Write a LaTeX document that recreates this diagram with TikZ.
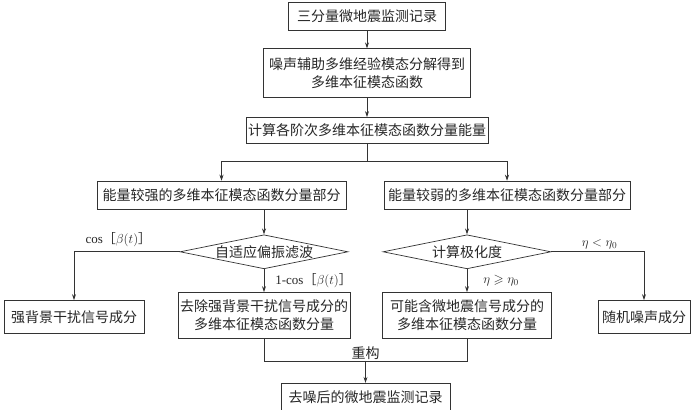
\documentclass[tikz,border=0pt]{standalone}
\usepackage{fix-cm}
\usepackage{fontspec}
\usepackage{amssymb}
\setmainfont{Liberation Serif}
\newfontfamily\cjk{Noto Sans CJK SC}
\usetikzlibrary{positioning}
\usetikzlibrary{shapes.geometric}
\usetikzlibrary{arrows.meta}
\usetikzlibrary{calc}

\begin{document}
\begin{tikzpicture}[x=1pt, y=1pt, line width=0.7pt, draw=black!80,
        box/.style={draw, align=center, inner sep=2pt, minimum height=28pt, text=black!85, font=\cjk\fontsize{14}{18}\selectfont},
        decision/.style={draw, diamond, aspect=5, inner sep=0pt, minimum width=168pt, minimum height=34pt, text=black!85, font=\cjk\fontsize{14}{18}\selectfont},
        arr/.style={-{Stealth[length=6pt,width=4pt]}},
        lbl/.style={inner sep=1pt, text=black!85, font=\fontsize{13}{15}\selectfont}]
        \useasboundingbox (0,0) rectangle (700,-409);

        % main column
        \node[box, minimum width=157pt] (rec) at (367,-16) {三分量微地震监测记录};
        \node[box, minimum width=207pt, minimum height=49pt, below=18pt of rec] (emd) {噪声辅助多维经验模态分解得到\\多维本征模态函数};
        \node[box, minimum width=237pt, minimum height=26pt, below=19pt of emd] (energy) {计算各阶次多维本征模态函数分量能量};
        \coordinate[below=18pt of energy] (split);

        % strong and weak parts
        \node[box, minimum width=249pt, below=37pt of energy, xshift=-145.5pt] (strong) {能量较强的多维本征模态函数分量部分};
        \node[box, minimum width=246pt, below=37pt of energy, xshift=140pt] (weak) {能量较弱的多维本征模态函数分量部分};
        \node[decision, below=25pt of strong, xshift=42.5pt] (adapt) {自适应偏振滤波};
        \node[decision, below=25pt of weak, xshift=-40pt] (polar) {计算极化度};

        % outputs
        \node[box, minimum width=140pt, minimum height=33pt, below=31pt of adapt, xshift=-190pt] (bg) {强背景干扰信号成分};
        \node[box, minimum width=170pt, minimum height=46pt, below=23pt of adapt] (rm) {去除强背景干扰信号成分的\\多维本征模态函数分量};
        \node[box, minimum width=169pt, minimum height=46pt, below=23pt of polar] (cand) {可能含微地震信号成分的\\多维本征模态函数分量};
        \node[box, minimum width=92pt, minimum height=33pt, below=31pt of polar, xshift=177pt] (noise) {随机噪声成分};
        \coordinate (merge) at ($(rm.south)!0.5!(cand.south)+(0,-22)$);
        \node[box, minimum width=169pt, below=22pt of merge] (final) {去噪后的微地震监测记录};
        \node[box, draw=none, minimum height=0pt, inner sep=1pt, above=0pt of merge] (rebuild) {重构};

        % edges
        \draw[arr] (rec) -- (emd);
        \draw[arr] (emd) -- (energy);
        \draw (energy) -- (split);
        \draw[arr] (split) -| (strong);
        \draw[arr] (split) -| (weak);
        \draw[arr] (strong.south -| adapt.north) -- (adapt);
        \draw[arr] (weak.south -| polar.north) -- (polar);
        \draw[arr] (adapt) -| (bg) node[lbl, pos=0.29, above=4pt] {cos{\cjk［}$\beta(t)${\cjk］}};
        \draw[arr] (adapt) -- (rm) node[lbl, midway, right=10pt] {1-cos{\cjk［}$\beta(t)${\cjk］}};
        \draw[arr] (polar) -- (cand) node[lbl, midway, right=15pt] {$\eta\geqslant\eta_0$};
        \draw[arr] (polar) -| (noise) node[lbl, pos=0.26, above=1pt] {$\eta<\eta_0$};
        \draw (rm) |- (merge) -| (cand);
        \draw[arr] (merge) -- (final);
\end{tikzpicture}
\end{document}
